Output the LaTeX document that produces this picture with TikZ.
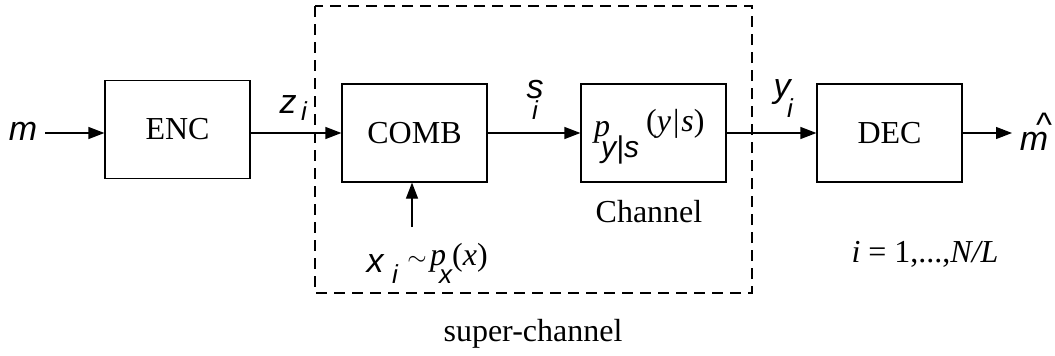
\documentclass[tikz,border=0pt]{standalone}
\usepackage{fontspec}
\setmainfont{Liberation Serif}
\newfontfamily\hv{Liberation Sans}
\usetikzlibrary{arrows.meta}
\tikzset{
  blk/.style={draw, line width=1.2pt, minimum width=145pt, minimum height=98pt, inner sep=0pt,
    font=\fontsize{32}{36}\selectfont},
  link/.style={line width=1.2pt, -{Triangle[length=16pt,width=12pt]}},
  sv/.style={font=\hv\itshape\fontsize{34}{38}\selectfont, inner sep=0pt, anchor=base},
  sub/.style={font=\hv\itshape\fontsize{26}{30}\selectfont, inner sep=0pt, anchor=base},
  rm/.style={font=\fontsize{32}{36}\selectfont, inner sep=0pt, anchor=base},
}
\begin{document}
\begin{tikzpicture}[x=1pt, y=-1pt]
\useasboundingbox (0,0) rectangle (1055,356);

% super-channel frame
\draw[line width=1.2pt, dash pattern=on 11pt off 7pt] (315,6) rectangle (752,293);

% processing blocks
\node[blk] (enc)  at (177.5,129.5) {ENC};
\node[blk] (comb) at (414.5,133)   {COMB};
\node[blk] (chan) at (653.5,133)   {};
\node[blk] (dec)  at (889.5,133)   {DEC};

% channel law inside the channel block
\node[rm, anchor=base west] (pp) at (594,136) {\itshape p};
\node[sub, anchor=base west, font=\hv\itshape\fontsize{30}{32}\selectfont] (pps) at (601,157) {y|s};
\node[rm, anchor=base west] (ppa) at (646,131) {(\textit{y}\kern2pt|\kern2pt\textit{s})};

% inputs and outputs
\node[sv] (m) at (23,140) {m};
\node[sv] (mh) at (1034,150) {m};
\node[font=\hv\fontsize{34}{36}\selectfont, inner sep=0pt, anchor=base] (hat) at (1044,136) {\textasciicircum};
\coordinate (min) at (45,133);
\coordinate (mhin) at (1012,133);
\coordinate (xsrc) at (412,227);

\draw[link] (min) -- (enc.west |- min);
\draw[link] (enc.east |- comb.west) -- (comb.west);
\draw[link] (comb.east) -- (chan.west);
\draw[link] (chan.east) -- (dec.west);
\draw[link] (dec.east) -- (mhin);
\draw[link] (xsrc) -- (xsrc |- comb.south);

% signal labels
\node[sv] (z) at (288,113) {z};
\node[sub] (zi) at (304,120) {i};
\node[sv] (s) at (535,98) {s};
\node[sub] (si) at (535,119) {i};
\node[sv] (y) at (782,97) {y};
\node[sub] (yi) at (790,117) {i};

% source distribution
\node[sv] (x) at (375,272) {x};
\node[sub] (xi) at (395,283) {i};
\node[font=\fontsize{30}{32}\selectfont, inner sep=0pt] (tl) at (417,261) {$\sim$};
\node[rm, anchor=base west] (px) at (430,265) {\itshape p};
\node[sub, anchor=base west] (pxs) at (439,283) {x};
\node[rm, anchor=base west] (pxa) at (452,265) {(\textit{x})};

% captions
\node[rm] (chl) at (649,222) {Channel};
\node[rm] (sc) at (533,341) {super-channel};
\node[rm] (idx) at (925,262) {\textit{i} = 1,...,\textit{N/L}};
\end{tikzpicture}
\end{document}
